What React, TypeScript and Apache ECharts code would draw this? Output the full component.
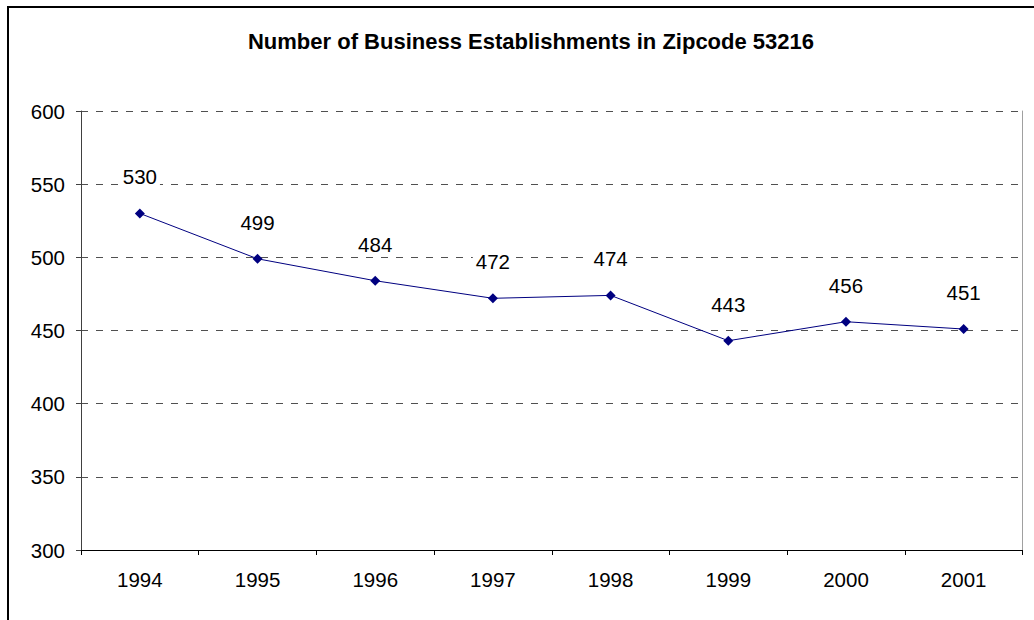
import React, { useEffect, useRef } from "react";
import * as echarts from "echarts";

const titleText = "Number of Business Establishments in Zipcode 53216";
const years = ["1994", "1995", "1996", "1997", "1998", "1999", "2000", "2001"];
const establishments = [530, 499, 484, 472, 474, 443, 456, 451];
const yMin = 300;
const yMax = 600;
const yStep = 50;

const FONT = "'Liberation Sans', Arial, sans-serif";

export default function App() {
  const ref = useRef<HTMLDivElement>(null);
  useEffect(() => {
    if (!ref.current) return;
    const chart = echarts.init(ref.current, null, { renderer: "svg" });
    chart.setOption({
      animation: false,
      backgroundColor: "#ffffff",
      title: {
        text: titleText,
        left: 526,
        top: 25,
        textAlign: "center",
        textStyle: { fontFamily: FONT, fontSize: 22, fontWeight: "bold", color: "#000" },
      },
      graphic: [
        {
          type: "rect",
          shape: { x: 8, y: 7, width: 1200, height: 800 },
          style: { fill: "none", stroke: "#000", lineWidth: 2 },
          silent: true,
        },
      ],
      grid: { left: 81, right: 11.5, top: 111, bottom: 70, containLabel: false },
      xAxis: {
        type: "category",
        data: years,
        boundaryGap: true,
        axisLine: { lineStyle: { color: "#000", width: 1 } },
        axisTick: { show: true, length: 5, lineStyle: { color: "#000" } },
        axisLabel: { fontFamily: FONT, fontSize: 20.5, color: "#000", margin: 19 },
        splitLine: { show: false },
      },
      yAxis: [
        {
          type: "value",
          min: yMin,
          max: yMax,
          interval: yStep,
          axisLine: { show: true, lineStyle: { color: "#404040", width: 1 } },
          axisTick: { show: true, length: 5, lineStyle: { color: "#404040" } },
          axisLabel: { fontFamily: FONT, fontSize: 20.5, color: "#000", margin: 16 },
          splitLine: { show: true, lineStyle: { color: "#505050", type: [7, 8], width: 1 } },
        },
        {
          type: "value",
          position: "right",
          min: yMin,
          max: yMax,
          interval: yStep,
          axisLine: { show: true, lineStyle: { color: "#a0a0a0", width: 1 } },
          axisTick: { show: false },
          axisLabel: { show: false },
          splitLine: { show: false },
        },
      ],
      series: [
        {
          type: "line",
          data: establishments,
          yAxisIndex: 0,
          symbol: "diamond",
          symbolSize: 10,
          lineStyle: { color: "#000080", width: 1 },
          itemStyle: { color: "#000080" },
          label: {
            show: true,
            position: "top",
            distance: 21,
            fontFamily: FONT,
            fontSize: 20.5,
            color: "#000",
            backgroundColor: "#fff",
            padding: [0, 3],
          },
        },
      ],
    });
    return () => chart.dispose();
  }, []);
  return (
    <div
      ref={ref}
      style={{ position: "absolute", left: 0, top: 0, width: 1034, height: 620 }}
    />
  );
}
